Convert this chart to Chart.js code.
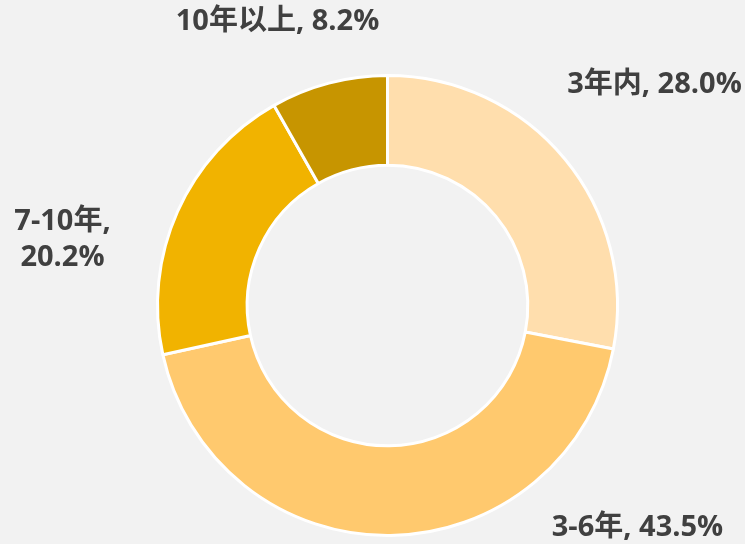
<!DOCTYPE html>
<html>
<head>
<meta charset="utf-8">
<script src="https://cdn.jsdelivr.net/npm/chart.js@4.4.1/dist/chart.umd.min.js"></script>
<style>
  html, body { margin: 0; padding: 0; background: #F2F2F2; }
  #wrap { width: 745px; height: 544px; position: relative; }
</style>
</head>
<body>
<div id="wrap"><canvas id="donut" width="745" height="544"></canvas></div>
<script>
// data
const categories = ['3年内', '3-6年', '7-10年', '10年以上'];
const shares = [28.0, 43.5, 20.2, 8.2];
const sliceColors = ['#FFDEAD', '#FFC96E', '#F1B300', '#C79500'];

// label text lines and where they sit relative to the ring centre
const labelLines = [
    ['3年内, 28.0%'],
    ['3-6年, 43.5%'],
    ['7-10年,', '20.2%'],
    ['10年以上, 8.2%']
];
const labelOffsets = [[267, -221], [250, 222], [-325, -66], [-110, -284]];

const labelPlugin = {
    id: 'outsideLabels',
    afterDatasetsDraw(chart) {
        const ctx = chart.ctx;
        const arc = chart.getDatasetMeta(0).data[0];
        if (!arc) return;
        const cx = arc.x, cy = arc.y;
        ctx.save();
        ctx.fillStyle = '#404040';
        ctx.font = "bold 29px 'Open Sans', 'Noto Sans CJK SC', sans-serif";
        ctx.textAlign = 'center';
        ctx.textBaseline = 'middle';
        const lineH = 36;
        labelLines.forEach((lines, i) => {
            const [dx, dy] = labelOffsets[i];
            const y0 = cy + dy - (lines.length - 1) * lineH / 2;
            lines.forEach((t, j) => ctx.fillText(t, cx + dx, y0 + j * lineH));
        });
        ctx.restore();
    }
};

new Chart(document.getElementById('donut'), {
    type: 'doughnut',
    data: {
        labels: categories,
        datasets: [{
            data: shares,
            backgroundColor: sliceColors,
            borderColor: '#FFFFFF',
            borderWidth: 3
        }]
    },
    options: {
        responsive: false,
        animation: false,
        cutout: '61%',
        layout: { padding: { left: 156, right: 126, top: 74, bottom: 7 } },
        plugins: {
            legend: { display: false },
            tooltip: { enabled: false }
        }
    },
    plugins: [labelPlugin]
});
</script>
</body>
</html>
